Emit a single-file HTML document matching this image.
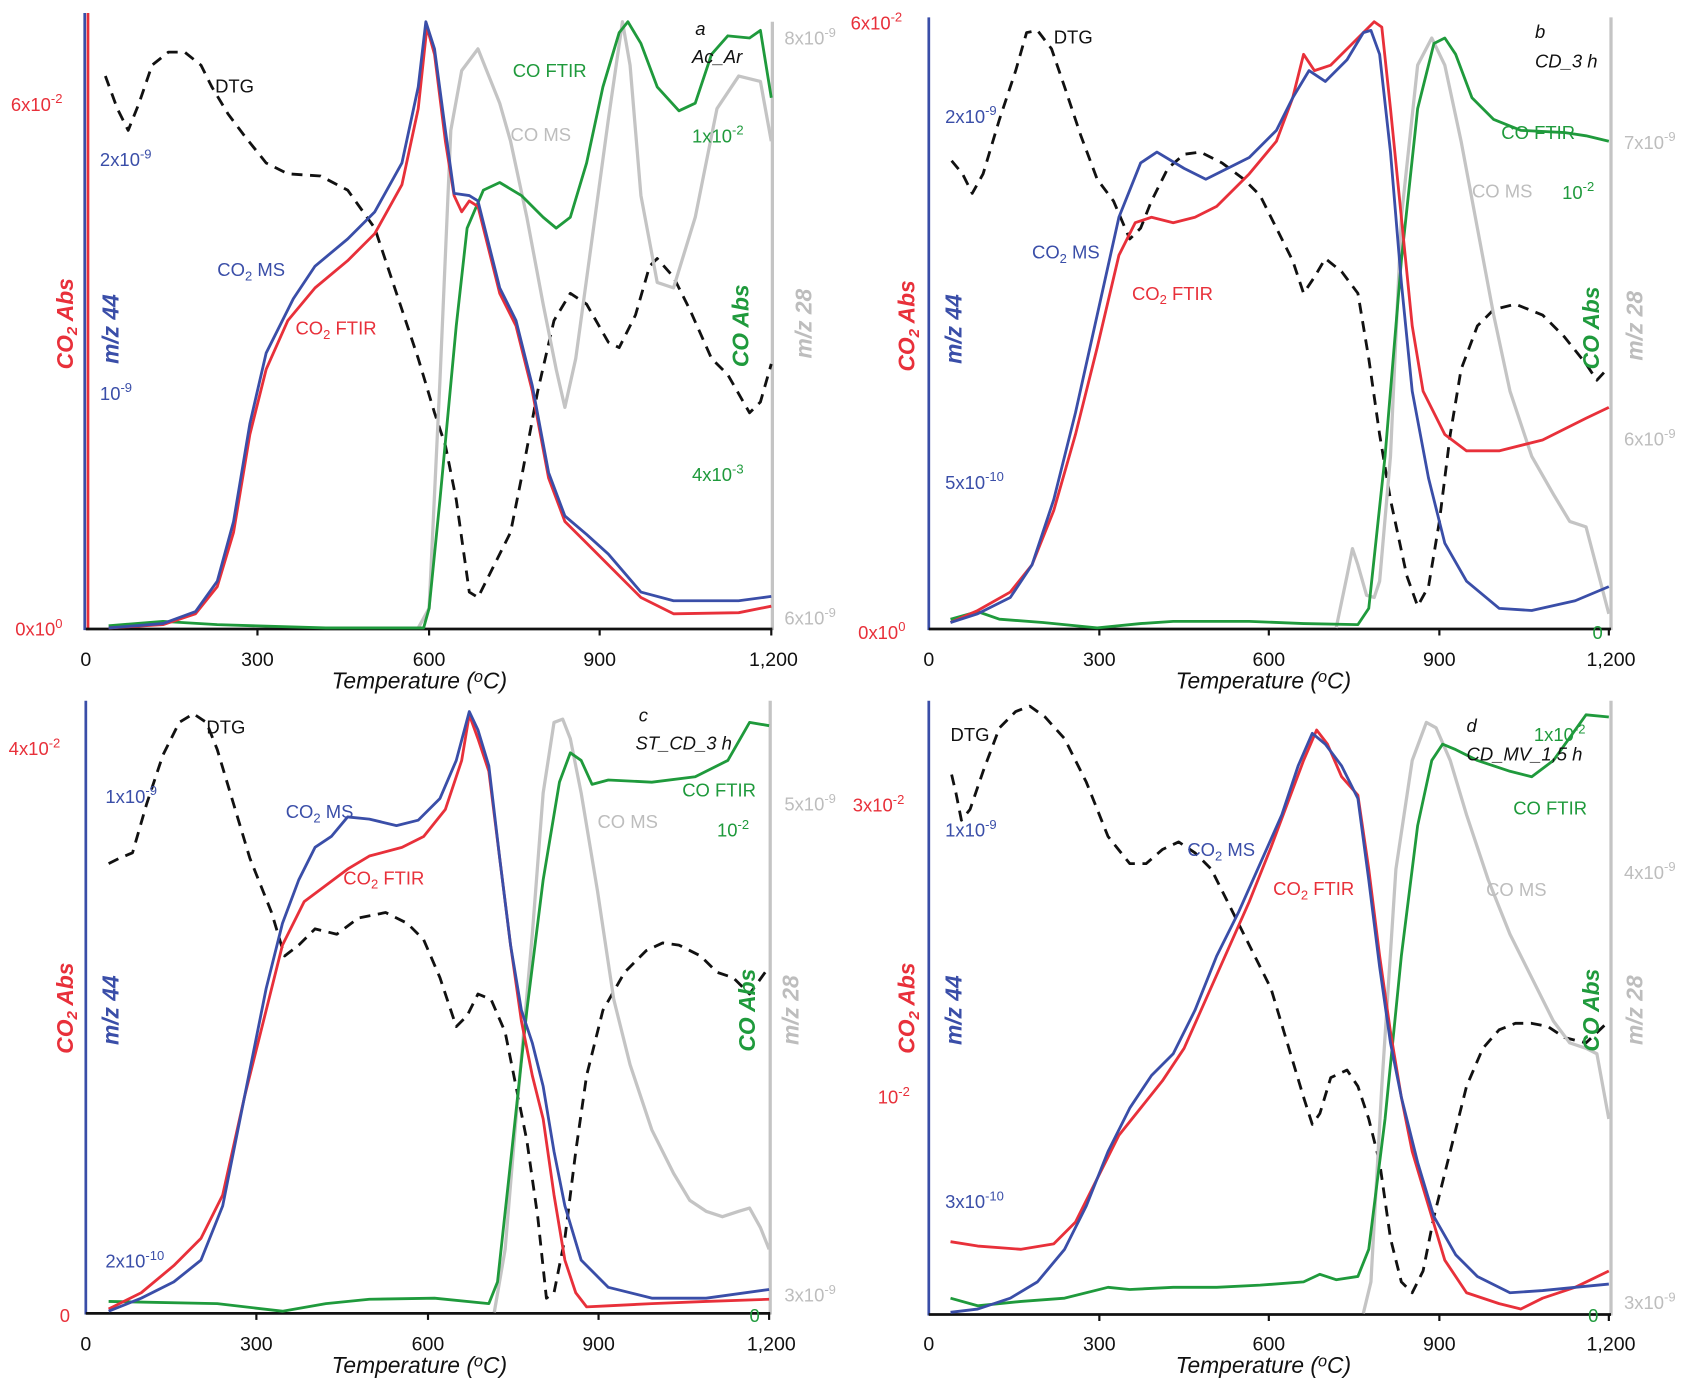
<!DOCTYPE html>
<html><head><meta charset="utf-8"><style>
html,body{margin:0;padding:0;background:#fff}
svg{display:block}
text{font-family:"Liberation Sans",Arial,sans-serif}
.t{font-size:18px;fill:#111;text-anchor:middle}
.tt{font-size:21px;fill:#111;font-style:italic;text-anchor:middle}
.l{font-size:17px}
.ax{font-size:21px;font-style:italic;font-weight:bold}
.r{fill:#e8303a}.b{fill:#3a4ea8}.g{fill:#1f9a3c}.gr{fill:#bdbdbd}.k{fill:#111}
polyline{fill:none;stroke-width:2.6;stroke-linejoin:round}
.R{stroke:#e8303a}.B{stroke:#3a4ea8}.G{stroke:#1f9a3c}.GR{stroke:#c4c4c4;stroke-width:3}.D{stroke:#111;stroke-dasharray:10 7;stroke-width:2.6}
</style></head><body>
<svg width="1699" height="1384" viewBox="0 0 1564 1274" preserveAspectRatio="none" xmlns="http://www.w3.org/2000/svg">
<!-- ========== PANEL A ========== -->
<g>
<line x1="78" y1="12" x2="78" y2="580" stroke="#3a4ea8" stroke-width="2.5"/>
<line x1="81" y1="12" x2="81" y2="580" stroke="#e8303a" stroke-width="2.5"/>
<line x1="711" y1="20" x2="711" y2="580" stroke="#c4c4c4" stroke-width="3"/>
<line x1="79" y1="579" x2="711" y2="579" stroke="#111" stroke-width="2.5"/>
<g stroke="#111" stroke-width="2"><line x1="237" y1="579" x2="237" y2="585"/><line x1="395" y1="579" x2="395" y2="585"/><line x1="552" y1="579" x2="552" y2="585"/><line x1="710" y1="579" x2="710" y2="585"/></g>
<text class="t" x="79" y="613">0</text><text class="t" x="237" y="613">300</text><text class="t" x="395" y="613">600</text><text class="t" x="552" y="613">900</text><text class="t" x="712" y="613">1,200</text>
<text class="tt" x="386" y="634">Temperature (<tspan font-size="15" dy="-6">o</tspan><tspan dy="6">C)</tspan></text>
<polyline class="D" points="97,70 108,100 118,120 128,95 140,60 155,48 170,48 185,60 195,80 210,105 225,125 245,150 265,160 295,162 320,175 345,210 365,270 385,330 400,380 410,410 420,460 432,545 440,550 455,520 470,490 480,440 495,360 510,295 525,270 540,280 560,315 570,320 585,290 598,245 605,238 620,255 635,285 655,330 670,345 690,380 700,370 710,335"/>
<polyline class="GR" points="385,578 395,560 405,350 415,120 425,65 440,45 450,70 460,95 470,130 485,200 500,280 512,340 520,375 530,330 545,220 560,110 573,20 580,60 590,180 605,260 620,265 640,200 660,100 680,70 700,75 710,130"/>
<polyline class="G" points="100,576 150,572 200,575 300,578 390,578 395,560 405,460 420,300 430,210 445,175 460,168 480,180 500,200 512,210 525,200 540,150 555,80 570,30 578,20 590,40 605,80 625,102 640,95 655,50 670,33 690,35 700,28 710,90"/>
<polyline class="R" points="100,578 150,575 180,565 200,540 215,490 230,400 245,340 265,295 290,265 320,240 345,215 370,170 385,100 393,25 400,50 410,130 418,180 425,195 432,185 440,190 450,230 460,270 475,300 490,360 505,440 520,480 540,500 560,520 590,550 620,565 680,564 710,558"/>
<polyline class="B" points="100,578 150,574 180,563 200,535 215,480 230,390 245,325 270,275 290,245 320,220 345,195 370,150 385,80 392,20 400,45 410,120 418,178 432,180 440,185 450,225 460,265 475,295 490,355 505,435 520,475 540,492 560,510 590,545 620,553 680,553 710,549"/>
<text class="l k" x="198" y="85">DTG</text>
<text class="l g" x="472" y="71">CO FTIR</text>
<text class="l gr" x="470" y="130">CO MS</text>
<text class="l b" x="200" y="254">CO<tspan font-size="12" dy="4">2</tspan><tspan dy="-4"> MS</tspan></text>
<text class="l r" x="272" y="308">CO<tspan font-size="12" dy="4">2</tspan><tspan dy="-4"> FTIR</tspan></text>
<text class="l k" x="640" y="32" font-style="italic">a</text>
<text class="l k" x="637" y="58" font-style="italic">Ac_Ar</text>
<text class="l r" x="10" y="102">6x10<tspan font-size="12" dy="-7">-2</tspan></text>
<text class="l b" x="92" y="153">2x10<tspan font-size="12" dy="-7">-9</tspan></text>
<text class="l b" x="92" y="368">10<tspan font-size="12" dy="-7">-9</tspan></text>
<text class="l r" x="14" y="585">0x10<tspan font-size="12" dy="-7">0</tspan></text>
<text class="l g" x="637" y="131">1x10<tspan font-size="12" dy="-7">-2</tspan></text>
<text class="l g" x="637" y="443">4x10<tspan font-size="12" dy="-7">-3</tspan></text>
<text class="l gr" x="722" y="41">8x10<tspan font-size="12" dy="-7">-9</tspan></text>
<text class="l gr" x="722" y="575">6x10<tspan font-size="12" dy="-7">-9</tspan></text>
<text class="ax r" transform="translate(67,340) rotate(-90)">CO<tspan font-size="14" dy="4">2</tspan><tspan dy="-4"> Abs</tspan></text>
<text class="ax b" transform="translate(109,335) rotate(-90)">m/z 44</text>
<text class="ax g" transform="translate(689,338) rotate(-90)">CO Abs</text>
<text class="ax gr" transform="translate(747,330) rotate(-90)">m/z 28</text>
</g>
<!-- ========== PANEL B ========== -->
<g>
<line x1="855" y1="16" x2="855" y2="580" stroke="#3a4ea8" stroke-width="2.5"/>
<line x1="1483" y1="16" x2="1483" y2="580" stroke="#c4c4c4" stroke-width="3"/>
<line x1="855" y1="579" x2="1483" y2="579" stroke="#111" stroke-width="2.5"/>
<g stroke="#111" stroke-width="2"><line x1="1012" y1="579" x2="1012" y2="585"/><line x1="1168" y1="579" x2="1168" y2="585"/><line x1="1325" y1="579" x2="1325" y2="585"/><line x1="1481" y1="579" x2="1481" y2="585"/></g>
<text class="t" x="855" y="613">0</text><text class="t" x="1012" y="613">300</text><text class="t" x="1168" y="613">600</text><text class="t" x="1325" y="613">900</text><text class="t" x="1483" y="613">1,200</text>
<text class="tt" x="1163" y="634">Temperature (<tspan font-size="15" dy="-6">o</tspan><tspan dy="6">C)</tspan></text>
<polyline class="D" points="876,148 886,160 895,178 905,160 920,110 935,65 945,30 955,28 968,45 980,80 995,125 1010,165 1025,185 1040,220 1050,210 1060,185 1075,155 1090,142 1105,140 1125,150 1145,165 1160,180 1175,210 1190,240 1200,270 1210,255 1220,238 1235,250 1250,270 1260,330 1270,400 1280,460 1295,530 1305,558 1315,540 1325,480 1335,400 1345,340 1360,300 1375,285 1395,280 1420,290 1440,310 1460,335 1470,350 1481,338"/>
<polyline class="GR" points="1230,578 1240,530 1245,505 1250,520 1258,548 1265,550 1270,535 1280,420 1290,200 1305,60 1318,35 1330,60 1345,130 1360,210 1375,290 1390,360 1410,420 1430,455 1445,480 1460,485 1481,565"/>
<polyline class="G" points="875,570 900,563 920,570 960,573 1010,578 1050,574 1080,572 1150,572 1200,574 1250,575 1260,560 1275,420 1290,240 1305,100 1320,40 1330,35 1340,50 1355,90 1375,110 1400,120 1440,122 1460,125 1481,130"/>
<polyline class="R" points="875,573 900,562 930,545 950,520 970,470 990,400 1010,320 1030,235 1045,205 1060,200 1080,205 1100,200 1120,190 1150,160 1175,130 1190,90 1200,50 1210,65 1225,60 1245,40 1265,20 1272,25 1280,100 1290,200 1300,300 1310,360 1330,400 1350,415 1380,415 1420,405 1460,385 1481,375"/>
<polyline class="B" points="875,573 900,565 930,550 950,520 970,460 990,380 1010,290 1030,200 1050,150 1065,140 1090,155 1110,165 1130,155 1150,145 1175,120 1190,90 1205,65 1220,75 1240,55 1255,30 1262,28 1270,50 1280,140 1290,260 1300,360 1315,440 1330,500 1350,535 1380,560 1410,562 1450,553 1481,540"/>
<text class="l k" x="970" y="40">DTG</text>
<text class="l k" x="1413" y="35" font-style="italic">b</text>
<text class="l k" x="1413" y="62" font-style="italic">CD_3 h</text>
<text class="l g" x="1382" y="128">CO FTIR</text>
<text class="l gr" x="1355" y="182">CO MS</text>
<text class="l b" x="950" y="238">CO<tspan font-size="12" dy="4">2</tspan><tspan dy="-4"> MS</tspan></text>
<text class="l r" x="1042" y="276">CO<tspan font-size="12" dy="4">2</tspan><tspan dy="-4"> FTIR</tspan></text>
<text class="l r" x="783" y="27">6x10<tspan font-size="12" dy="-7">-2</tspan></text>
<text class="l b" x="870" y="113">2x10<tspan font-size="12" dy="-7">-9</tspan></text>
<text class="l b" x="870" y="450">5x10<tspan font-size="12" dy="-7">-10</tspan></text>
<text class="l r" x="790" y="588">0x10<tspan font-size="12" dy="-7">0</tspan></text>
<text class="l g" x="1438" y="183">10<tspan font-size="12" dy="-7">-2</tspan></text>
<text class="l g" x="1466" y="588">0</text>
<text class="l gr" x="1495" y="137">7x10<tspan font-size="12" dy="-7">-9</tspan></text>
<text class="l gr" x="1495" y="410">6x10<tspan font-size="12" dy="-7">-9</tspan></text>
<text class="ax r" transform="translate(842,342) rotate(-90)">CO<tspan font-size="14" dy="4">2</tspan><tspan dy="-4"> Abs</tspan></text>
<text class="ax b" transform="translate(885,335) rotate(-90)">m/z 44</text>
<text class="ax g" transform="translate(1472,340) rotate(-90)">CO Abs</text>
<text class="ax gr" transform="translate(1512,332) rotate(-90)">m/z 28</text>
</g>
<!-- ========== PANEL C ========== -->
<g>
<line x1="79" y1="645" x2="79" y2="1210" stroke="#3a4ea8" stroke-width="2.5"/>
<line x1="709" y1="645" x2="709" y2="1210" stroke="#c4c4c4" stroke-width="3"/>
<line x1="79" y1="1209" x2="709" y2="1209" stroke="#111" stroke-width="2.5"/>
<g stroke="#111" stroke-width="2"><line x1="236" y1="1209" x2="236" y2="1215"/><line x1="394" y1="1209" x2="394" y2="1215"/><line x1="551" y1="1209" x2="551" y2="1215"/><line x1="708" y1="1209" x2="708" y2="1215"/></g>
<text class="t" x="79" y="1243">0</text><text class="t" x="236" y="1243">300</text><text class="t" x="394" y="1243">600</text><text class="t" x="551" y="1243">900</text><text class="t" x="710" y="1243">1,200</text>
<text class="tt" x="386" y="1264">Temperature (<tspan font-size="15" dy="-6">o</tspan><tspan dy="6">C)</tspan></text>
<polyline class="D" points="100,795 110,790 122,785 135,740 150,695 165,665 178,657 190,665 200,690 215,740 230,790 250,840 262,880 275,870 290,855 310,860 330,845 355,840 375,850 390,865 405,900 420,945 430,935 440,915 452,920 465,950 475,1000 485,1050 495,1120 503,1195 510,1190 520,1140 530,1060 540,990 555,930 575,895 595,875 610,868 625,870 645,880 660,895 675,900 690,915 708,890"/>
<polyline class="GR" points="455,1208 465,1150 475,1030 490,860 500,730 510,665 518,662 525,680 535,730 550,820 565,920 580,980 600,1040 620,1080 635,1105 650,1115 665,1120 680,1115 690,1112 700,1130 708,1150"/>
<polyline class="G" points="100,1198 200,1200 260,1207 300,1200 340,1196 400,1195 450,1200 458,1180 470,1070 485,930 500,810 515,720 525,693 535,700 545,722 560,718 600,720 640,715 670,700 690,665 708,668"/>
<polyline class="R" points="100,1205 130,1190 160,1165 185,1140 205,1100 225,1010 245,930 260,870 280,830 300,815 320,800 340,788 370,780 390,770 410,745 425,700 432,658 440,680 450,710 460,790 470,870 480,940 490,990 500,1030 510,1100 520,1160 530,1190 540,1203 560,1202 600,1200 650,1198 708,1196"/>
<polyline class="B" points="100,1207 130,1195 160,1180 185,1160 205,1110 225,1010 245,910 260,850 275,810 290,780 305,770 320,752 340,754 365,760 385,755 405,735 420,700 432,655 440,672 450,705 460,790 470,870 480,930 490,960 500,1000 510,1060 520,1110 535,1160 560,1185 600,1195 650,1195 708,1187"/>
<text class="l k" x="190" y="675">DTG</text>
<text class="l k" x="588" y="664" font-style="italic">c</text>
<text class="l k" x="585" y="690" font-style="italic">ST_CD_3 h</text>
<text class="l g" x="628" y="733">CO FTIR</text>
<text class="l gr" x="550" y="762">CO MS</text>
<text class="l b" x="263" y="753">CO<tspan font-size="12" dy="4">2</tspan><tspan dy="-4"> MS</tspan></text>
<text class="l r" x="316" y="814">CO<tspan font-size="12" dy="4">2</tspan><tspan dy="-4"> FTIR</tspan></text>
<text class="l r" x="8" y="695">4x10<tspan font-size="12" dy="-7">-2</tspan></text>
<text class="l b" x="97" y="739">1x10<tspan font-size="12" dy="-7">-9</tspan></text>
<text class="l b" x="97" y="1167">2x10<tspan font-size="12" dy="-7">-10</tspan></text>
<text class="l r" x="55" y="1217">0</text>
<text class="l g" x="660" y="770">10<tspan font-size="12" dy="-7">-2</tspan></text>
<text class="l g" x="690" y="1217">0</text>
<text class="l gr" x="722" y="746">5x10<tspan font-size="12" dy="-7">-9</tspan></text>
<text class="l gr" x="722" y="1198">3x10<tspan font-size="12" dy="-7">-9</tspan></text>
<text class="ax r" transform="translate(67,970) rotate(-90)">CO<tspan font-size="14" dy="4">2</tspan><tspan dy="-4"> Abs</tspan></text>
<text class="ax b" transform="translate(109,962) rotate(-90)">m/z 44</text>
<text class="ax g" transform="translate(695,968) rotate(-90)">CO Abs</text>
<text class="ax gr" transform="translate(735,962) rotate(-90)">m/z 28</text>
</g>
<!-- ========== PANEL D ========== -->
<g>
<line x1="855" y1="645" x2="855" y2="1211" stroke="#3a4ea8" stroke-width="2.5"/>
<line x1="1483" y1="645" x2="1483" y2="1211" stroke="#c4c4c4" stroke-width="3"/>
<line x1="855" y1="1210" x2="1483" y2="1210" stroke="#111" stroke-width="2.5"/>
<g stroke="#111" stroke-width="2"><line x1="1012" y1="1210" x2="1012" y2="1216"/><line x1="1168" y1="1210" x2="1168" y2="1216"/><line x1="1325" y1="1210" x2="1325" y2="1216"/><line x1="1481" y1="1210" x2="1481" y2="1216"/></g>
<text class="t" x="855" y="1243">0</text><text class="t" x="1012" y="1243">300</text><text class="t" x="1168" y="1243">600</text><text class="t" x="1325" y="1243">900</text><text class="t" x="1483" y="1243">1,200</text>
<text class="tt" x="1163" y="1264">Temperature (<tspan font-size="15" dy="-6">o</tspan><tspan dy="6">C)</tspan></text>
<polyline class="D" points="876,713 880,730 885,755 893,745 905,710 920,670 935,655 948,650 962,660 980,680 1000,720 1020,770 1040,795 1055,795 1070,782 1085,775 1100,785 1115,800 1130,830 1150,870 1170,910 1185,960 1200,1010 1208,1035 1215,1025 1225,992 1240,985 1250,1000 1260,1030 1270,1070 1280,1140 1290,1180 1300,1190 1310,1170 1320,1120 1335,1060 1350,1000 1365,965 1380,948 1395,942 1410,942 1425,945 1440,955 1460,960 1481,940"/>
<polyline class="GR" points="1255,1209 1262,1180 1272,1000 1285,800 1300,700 1313,665 1322,670 1335,700 1350,750 1370,810 1390,860 1410,900 1430,940 1445,960 1460,965 1470,970 1481,1030"/>
<polyline class="G" points="875,1195 900,1202 940,1198 980,1195 1020,1185 1040,1187 1080,1185 1120,1185 1160,1183 1200,1180 1215,1173 1230,1178 1250,1175 1260,1150 1275,1030 1290,880 1305,760 1318,700 1328,685 1340,690 1360,700 1390,710 1410,715 1430,700 1460,658 1481,660"/>
<polyline class="R" points="875,1143 900,1147 940,1150 970,1145 990,1125 1010,1085 1030,1045 1050,1020 1070,995 1090,965 1110,920 1130,875 1150,830 1170,780 1185,740 1200,700 1212,672 1222,685 1235,715 1250,732 1260,800 1270,880 1280,950 1290,1010 1300,1060 1315,1110 1330,1160 1350,1190 1380,1200 1400,1205 1420,1195 1450,1185 1481,1170"/>
<polyline class="B" points="875,1208 900,1205 930,1195 955,1180 980,1150 1000,1110 1020,1060 1040,1020 1060,990 1080,970 1100,930 1120,880 1140,840 1160,795 1180,750 1195,705 1208,675 1220,685 1235,705 1250,735 1260,810 1270,890 1280,960 1290,1010 1305,1070 1320,1120 1340,1155 1360,1175 1390,1190 1420,1188 1450,1185 1481,1182"/>
<text class="l k" x="875" y="682">DTG</text>
<text class="l k" x="1350" y="674" font-style="italic">d</text>
<text class="l k" x="1350" y="700" font-style="italic">CD_MV_1,5 h</text>
<text class="l g" x="1412" y="682">1x10<tspan font-size="12" dy="-7">-2</tspan></text>
<text class="l g" x="1393" y="750">CO FTIR</text>
<text class="l gr" x="1368" y="825">CO MS</text>
<text class="l b" x="1093" y="788">CO<tspan font-size="12" dy="4">2</tspan><tspan dy="-4"> MS</tspan></text>
<text class="l r" x="1172" y="824">CO<tspan font-size="12" dy="4">2</tspan><tspan dy="-4"> FTIR</tspan></text>
<text class="l r" x="785" y="747">3x10<tspan font-size="12" dy="-7">-2</tspan></text>
<text class="l b" x="870" y="770">1x10<tspan font-size="12" dy="-7">-9</tspan></text>
<text class="l r" x="808" y="1016">10<tspan font-size="12" dy="-7">-2</tspan></text>
<text class="l b" x="870" y="1112">3x10<tspan font-size="12" dy="-7">-10</tspan></text>
<text class="l g" x="1462" y="1217">0</text>
<text class="l gr" x="1495" y="809">4x10<tspan font-size="12" dy="-7">-9</tspan></text>
<text class="l gr" x="1495" y="1205">3x10<tspan font-size="12" dy="-7">-9</tspan></text>
<text class="ax r" transform="translate(842,970) rotate(-90)">CO<tspan font-size="14" dy="4">2</tspan><tspan dy="-4"> Abs</tspan></text>
<text class="ax b" transform="translate(885,962) rotate(-90)">m/z 44</text>
<text class="ax g" transform="translate(1472,968) rotate(-90)">CO Abs</text>
<text class="ax gr" transform="translate(1512,962) rotate(-90)">m/z 28</text>
</g>
</svg>
</body></html>
